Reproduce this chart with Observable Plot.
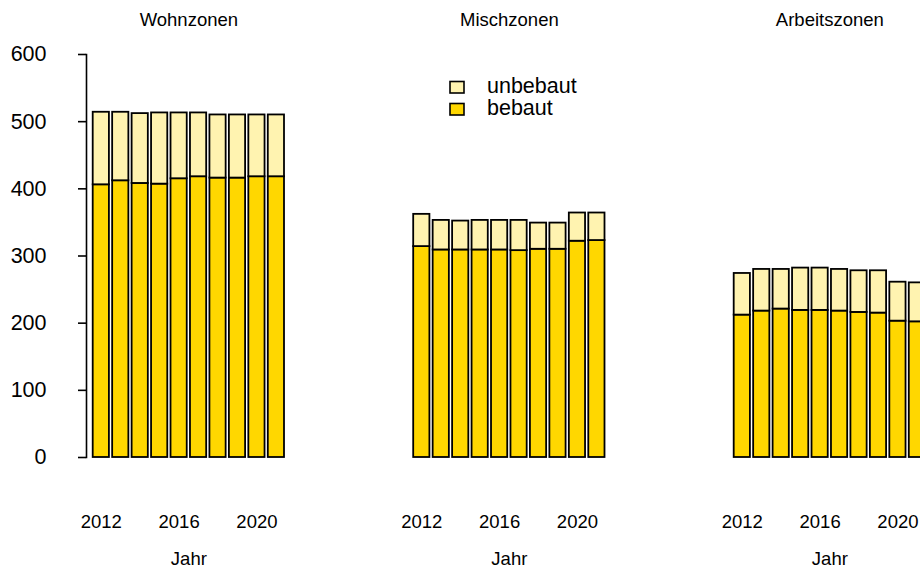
<!DOCTYPE html>
<html><head><meta charset="utf-8">
<script src="https://cdn.jsdelivr.net/npm/d3@7"></script>
<script src="https://cdn.jsdelivr.net/npm/@observablehq/plot@0.6"></script>
<style>
html,body{margin:0;padding:0;background:#fff;overflow:hidden;}
#wrap{position:relative;width:920px;height:569px;overflow:hidden;}
#wrap svg{max-width:none !important;}
</style></head><body><div id="wrap"></div>
<script>
const zones = ["Wohnzonen", "Mischzonen", "Arbeitszonen"];
const years = [2012, 2013, 2014, 2015, 2016, 2017, 2018, 2019, 2020, 2021];
const xTicks = [2012, 2016, 2020];
const yTicks = [0, 100, 200, 300, 400, 500, 600];
const statuses = ["bebaut", "unbebaut"];
const colors = ["#ffd700", "#fff3b0"];

const wohnBebaut   = [406, 412, 408, 407, 415, 418, 416, 416, 418, 418];
const wohnUnbebaut = [108, 102, 104, 106,  98,  95,  94,  94,  92,  92];
const mischBebaut   = [314, 309, 309, 309, 309, 308, 310, 310, 322, 323];
const mischUnbebaut = [ 48,  44,  43,  44,  44,  45,  39,  39,  42,  41];
const arbBebaut   = [212, 218, 221, 219, 219, 218, 216, 215, 203, 202];
const arbUnbebaut = [ 62,  62,  59,  63,  63,  62,  62,  63,  58,  58];

const series = {
  Wohnzonen: [wohnBebaut, wohnUnbebaut],
  Mischzonen: [mischBebaut, mischUnbebaut],
  Arbeitszonen: [arbBebaut, arbUnbebaut]
};
const rows = [];
for (const zone of zones) {
  statuses.forEach((status, s) => {
    years.forEach((year, i) => rows.push({zone, year, status, value: series[zone][s][i]}));
  });
}

const font = '"Liberation Sans", Arial, Helvetica, sans-serif';
const chart = Plot.plot({
  width: 932,
  height: 569,
  marginTop: 54,
  marginBottom: 112,
  marginLeft: 86,
  marginRight: 0.3,
  style: {fontFamily: font, background: "#fff", color: "#000", overflow: "visible", maxWidth: "none"},
  fx: {domain: zones, paddingInner: 0.3613, paddingOuter: 0, round: false, axis: null},
  x: {domain: years, paddingInner: 1 / 6, paddingOuter: 0.3445, round: false},
  y: {domain: [0, 600]},
  color: {domain: statuses, range: colors},
  marks: [
    Plot.barY(rows, {fx: "zone", x: "year", y: "value", fill: "status", stroke: "#000", strokeWidth: 1.8}),
    Plot.axisY({ticks: yTicks, tickSize: 8, tickPadding: 32, fontSize: 21.5, strokeWidth: 1.6, label: null, tickFormat: d => `${d}`}),
    Plot.frame({anchor: "left", facetAnchor: "left", stroke: "#000", strokeWidth: 1.6}),
    Plot.axisX({ticks: xTicks, tickSize: 0, tickPadding: 57, fontSize: 18.5, label: null, tickFormat: d => `${d}`}),
    Plot.text(zones, {fx: d => d, text: d => d, frameAnchor: "top", dy: -34, fontSize: 18.5, lineAnchor: "middle"}),
    Plot.text(zones, {fx: d => d, text: () => "Jahr", frameAnchor: "bottom", dy: 101.5, fontSize: 18.5, lineAnchor: "middle"})
  ]
});
document.getElementById("wrap").appendChild(chart);

// legend
const svg = d3.select(chart);
const leg = svg.append("g").attr("font-family", font).attr("font-size", 21.5).attr("text-anchor", "start");
const legendItems = [["unbebaut", colors[1]], ["bebaut", colors[0]]];
legendItems.forEach(([label, c], i) => {
  const y0 = 81.5 + i * 22;
  leg.append("rect").attr("x", 450).attr("y", y0).attr("width", 14).attr("height", 11.5)
    .attr("fill", c).attr("stroke", "#000").attr("stroke-width", 1.6);
  leg.append("text").attr("x", 487).attr("y", y0 + 11.8).attr("text-anchor", "start").text(label);
});
</script></body></html>
